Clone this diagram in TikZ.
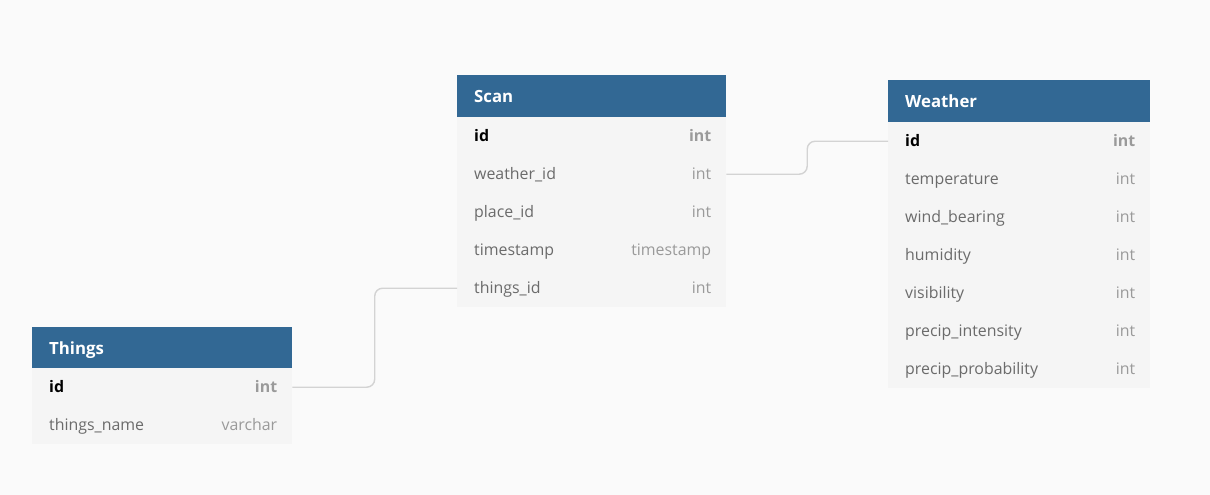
\documentclass[tikz,border=0pt]{standalone}
\usepackage{fontspec}
\setmainfont{Open Sans}
\usetikzlibrary{calc}
\definecolor{bg}{HTML}{FAFAFA}
\definecolor{hdr}{HTML}{326894}
\definecolor{rowbg}{HTML}{F5F5F5}
\definecolor{fname}{HTML}{6B6B6B}
\definecolor{ftype}{HTML}{9A9A9A}
\definecolor{conn}{HTML}{D3D3D3}
\tikzset{
  hdrbox/.style={draw=none, fill=hdr, anchor=north west, inner sep=0pt, minimum height=42pt},
  rowbox/.style={draw=none, fill=rowbg, anchor=north west, inner sep=0pt, minimum height=38pt},
  titletext/.style={anchor=base west, inner sep=0pt, text=white, font=\fontsize{16.8}{20}\selectfont\bfseries},
  nametext/.style={anchor=base west, inner sep=0pt, text=fname, font=\fontsize{15.9}{19}\selectfont},
  typetext/.style={anchor=base east, inner sep=0pt, text=ftype, font=\fontsize{15.9}{19}\selectfont},
  keyname/.style={anchor=base west, inner sep=0pt, text=black, font=\fontsize{15.9}{19}\selectfont\bfseries},
  keytype/.style={anchor=base east, inner sep=0pt, text=ftype, font=\fontsize{15.9}{19}\selectfont\bfseries},
  connline/.style={draw=conn, line width=1.4pt, rounded corners=8pt}
}
\begin{document}
\begin{tikzpicture}[x=1pt,y=-1pt]
\fill[bg] (0,0) rectangle (1210,495);
\useasboundingbox (0,0) rectangle (1210,495);
% ---------- Scan ----------
\node[hdrbox, minimum width=269pt] (scanh) at (457,75) {};
\node[titletext] (scant) at ($(scanh.west)+(17,6)$) {Scan};
\node[rowbox, minimum width=269pt] (scan1) at (457,117) {};
\node[rowbox, minimum width=269pt] (scan2) at (457,155) {};
\node[rowbox, minimum width=269pt] (scan3) at (457,193) {};
\node[rowbox, minimum width=269pt] (scan4) at (457,231) {};
\node[rowbox, minimum width=269pt] (scan5) at (457,269) {};
\node[keyname] (scan1n) at ($(scan1.west)+(17,5.5)$) {id};
\node[keytype] (scan1t) at ($(scan1.east)+(-15,5.5)$) {int};
\node[nametext] (scan2n) at ($(scan2.west)+(17,5.5)$) {weather\_id};
\node[typetext] (scan2t) at ($(scan2.east)+(-15,5.5)$) {int};
\node[nametext] (scan3n) at ($(scan3.west)+(17,5.5)$) {place\_id};
\node[typetext] (scan3t) at ($(scan3.east)+(-15,5.5)$) {int};
\node[nametext] (scan4n) at ($(scan4.west)+(17,5.5)$) {timestamp};
\node[typetext] (scan4t) at ($(scan4.east)+(-15,5.5)$) {timestamp};
\node[nametext] (scan5n) at ($(scan5.west)+(17,5.5)$) {things\_id};
\node[typetext] (scan5t) at ($(scan5.east)+(-15,5.5)$) {int};
% ---------- Weather ----------
\node[hdrbox, minimum width=262pt] (wh) at (888,80) {};
\node[titletext] (wt) at ($(wh.west)+(17,6)$) {Weather};
\node[rowbox, minimum width=262pt] (w1) at (888,122) {};
\node[rowbox, minimum width=262pt] (w2) at (888,160) {};
\node[rowbox, minimum width=262pt] (w3) at (888,198) {};
\node[rowbox, minimum width=262pt] (w4) at (888,236) {};
\node[rowbox, minimum width=262pt] (w5) at (888,274) {};
\node[rowbox, minimum width=262pt] (w6) at (888,312) {};
\node[rowbox, minimum width=262pt] (w7) at (888,350) {};
\node[keyname] (w1n) at ($(w1.west)+(17,5.5)$) {id};
\node[keytype] (w1t) at ($(w1.east)+(-15,5.5)$) {int};
\node[nametext] (w2n) at ($(w2.west)+(17,5.5)$) {temperature};
\node[typetext] (w2t) at ($(w2.east)+(-15,5.5)$) {int};
\node[nametext] (w3n) at ($(w3.west)+(17,5.5)$) {wind\_bearing};
\node[typetext] (w3t) at ($(w3.east)+(-15,5.5)$) {int};
\node[nametext] (w4n) at ($(w4.west)+(17,5.5)$) {humidity};
\node[typetext] (w4t) at ($(w4.east)+(-15,5.5)$) {int};
\node[nametext] (w5n) at ($(w5.west)+(17,5.5)$) {visibility};
\node[typetext] (w5t) at ($(w5.east)+(-15,5.5)$) {int};
\node[nametext] (w6n) at ($(w6.west)+(17,5.5)$) {precip\_intensity};
\node[typetext] (w6t) at ($(w6.east)+(-15,5.5)$) {int};
\node[nametext] (w7n) at ($(w7.west)+(17,5.5)$) {precip\_probability};
\node[typetext] (w7t) at ($(w7.east)+(-15,5.5)$) {int};
% ---------- Things ----------
\node[hdrbox, minimum width=260pt] (th) at (32,327) {};
\node[titletext] (tt) at ($(th.west)+(17,6)$) {Things};
\node[rowbox, minimum width=260pt] (t1) at (32,368) {};
\node[rowbox, minimum width=260pt] (t2) at (32,406) {};
\node[keyname] (t1n) at ($(t1.west)+(17,5.5)$) {id};
\node[keytype] (t1t) at ($(t1.east)+(-15,5.5)$) {int};
\node[nametext] (t2n) at ($(t2.west)+(17,5.5)$) {things\_name};
\node[typetext] (t2t) at ($(t2.east)+(-15,5.5)$) {varchar};
% ---------- connectors ----------
\draw[connline] (scan2.east) -| ($(scan2.east)!0.5!(w1.west)$) |- (w1.west);
\draw[connline] (t1.east) -| ($(t1.east)!0.5!(scan5.west)$) |- (scan5.west);
\end{tikzpicture}
\end{document}
